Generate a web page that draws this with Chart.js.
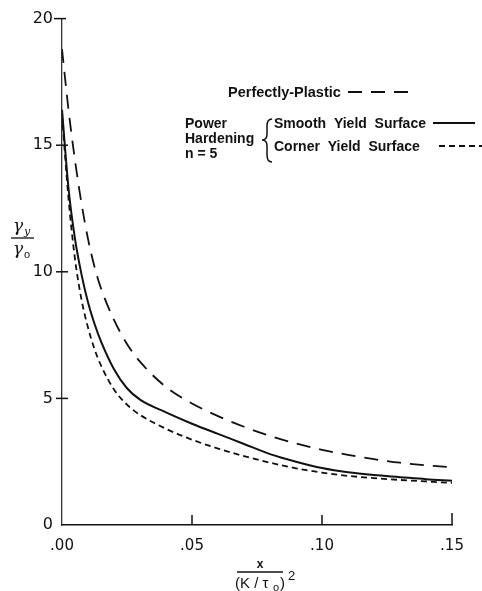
<!DOCTYPE html>
<html>
<head>
<meta charset="utf-8">
<script src="https://cdn.jsdelivr.net/npm/chart.js@4.4.1/dist/chart.umd.min.js"></script>
<style>
html,body{margin:0;padding:0;background:#fff;}
#wrap{position:relative;width:482px;height:591px;}
</style>
</head>
<body>
<div id="wrap"><canvas id="c" width="482" height="591"></canvas></div>
<script>
// ---- data ----
const xValues = [0, 0.0025, 0.005, 0.0075, 0.01, 0.0125, 0.015, 0.02, 0.025, 0.03, 0.04, 0.05, 0.06, 0.07, 0.08, 0.09, 0.10, 0.11, 0.12, 0.13, 0.14, 0.15];
const perfectlyPlastic = [18.8, 16.4, 14.4, 12.7, 11.3, 10.2, 9.35, 8.1, 7.15, 6.45, 5.45, 4.8, 4.3, 3.88, 3.52, 3.22, 2.97, 2.77, 2.6, 2.46, 2.36, 2.28];
const smoothYield = [16.4, 13.3, 11.3, 9.9, 8.8, 7.95, 7.25, 6.15, 5.4, 4.95, 4.45, 4.0, 3.6, 3.2, 2.8, 2.5, 2.25, 2.08, 1.97, 1.89, 1.81, 1.75];
const cornerYield = [16.2, 12.9, 10.5, 8.9, 7.8, 6.95, 6.3, 5.35, 4.75, 4.35, 3.8, 3.37, 3.02, 2.72, 2.46, 2.24, 2.07, 1.94, 1.85, 1.78, 1.72, 1.66];
const yTicks = [0, 5, 10, 15, 20];
const xTicks = [0, 0.05, 0.10, 0.15];
const xTickLabels = ['.00', '.05', '.10', '.15'];

const pts = arr => xValues.map((x, i) => ({x: x, y: arr[i]}));

const FONT = '"Liberation Sans", Arial, sans-serif';

const decor = {
  id: 'decor',
  afterDraw(chart) {
    const ctx = chart.ctx;
    const xs = chart.scales.x, ys = chart.scales.y;
    const x0 = xs.getPixelForValue(0), y0 = ys.getPixelForValue(0);
    ctx.save();
    ctx.strokeStyle = '#111';
    ctx.lineWidth = 1.5;
    // y-axis cross ticks
    yTicks.forEach(v => {
      if (v === 0) return;
      const y = ys.getPixelForValue(v);
      ctx.beginPath();
      if (v === 20) { ctx.moveTo(x0 - 8, y); ctx.lineTo(x0 + 4, y); }
      else { ctx.moveTo(x0 - 6, y); ctx.lineTo(x0 + 6, y); }
      ctx.stroke();
    });
    // x-axis inward ticks
    xTicks.forEach(v => {
      if (v === 0) return;
      const x = xs.getPixelForValue(v);
      ctx.beginPath();
      ctx.moveTo(x, y0); ctx.lineTo(x, y0 - (v > 0.12 ? 12 : 10));
      ctx.stroke();
    });

    // legend
    ctx.fillStyle = '#111';
    ctx.textBaseline = 'alphabetic';
    ctx.font = 'bold 14.5px ' + FONT;
    ctx.fillText('Perfectly-Plastic', 228, 97);
    ctx.font = 'bold 14px ' + FONT;
    ctx.fillText('Power', 185, 128);
    ctx.fillText('Hardening', 185, 143);
    ctx.fillText('n = 5', 185, 158);
    ctx.fillText('Smooth  Yield  Surface', 274, 128);
    ctx.fillText('Corner  Yield  Surface', 274, 151);
    // brace
    ctx.lineWidth = 1.5;
    ctx.beginPath();
    ctx.moveTo(272, 119);
    ctx.quadraticCurveTo(267, 119, 267, 126);
    ctx.lineTo(267, 134);
    ctx.quadraticCurveTo(267, 140, 262, 140);
    ctx.quadraticCurveTo(267, 140, 267, 146);
    ctx.lineTo(267, 155);
    ctx.quadraticCurveTo(267, 162, 272, 162);
    ctx.stroke();
    // legend samples
    ctx.lineWidth = 2;
    ctx.setLineDash([14, 9]);
    ctx.beginPath(); ctx.moveTo(348, 92); ctx.lineTo(413, 92); ctx.stroke();
    ctx.setLineDash([]);
    ctx.beginPath(); ctx.moveTo(433, 123); ctx.lineTo(475, 123); ctx.stroke();
    ctx.setLineDash([6, 4]);
    ctx.beginPath(); ctx.moveTo(439, 146); ctx.lineTo(482, 146); ctx.stroke();
    ctx.setLineDash([]);

    // y-axis title: gamma_y over gamma_o
    ctx.lineWidth = 1.3;
    ctx.font = 'italic 17px "DejaVu Serif", serif';
    ctx.fillText('\u03B3', 13, 231);
    ctx.font = 'italic 11px "DejaVu Serif", serif';
    ctx.fillText('y', 24, 235);
    ctx.beginPath(); ctx.moveTo(11, 238); ctx.lineTo(34, 238); ctx.stroke();
    ctx.font = 'italic 17px "DejaVu Serif", serif';
    ctx.fillText('\u03B3', 13, 254);
    ctx.font = '11px ' + FONT;
    ctx.fillText('o', 24, 258);

    // x-axis title: x over (K/tau_o)^2
    ctx.font = 'bold 12px ' + FONT;
    ctx.textAlign = 'center';
    ctx.fillText('x', 260, 568);
    ctx.beginPath(); ctx.moveTo(237, 572); ctx.lineTo(283, 572); ctx.stroke();
    ctx.font = '15px ' + FONT;
    ctx.textAlign = 'left';
    ctx.fillText('(K / \u03C4', 235, 588);
    ctx.font = '11px ' + FONT;
    ctx.fillText('o', 273, 591);
    ctx.font = '15px ' + FONT;
    ctx.fillText(')', 280, 588);
    ctx.font = '13px ' + FONT;
    ctx.fillText('2', 288, 580);
    ctx.restore();
  }
};

new Chart(document.getElementById('c'), {
  type: 'scatter',
  data: {
    datasets: [
      { label: 'Perfectly-Plastic', data: pts(perfectlyPlastic), showLine: true, borderColor: '#111', borderWidth: 1.8, borderDash: [14, 9], pointRadius: 0, cubicInterpolationMode: 'monotone' },
      { label: 'Smooth Yield Surface', data: pts(smoothYield), showLine: true, borderColor: '#111', borderWidth: 2, pointRadius: 0, cubicInterpolationMode: 'monotone' },
      { label: 'Corner Yield Surface', data: pts(cornerYield), showLine: true, borderColor: '#111', borderWidth: 1.8, borderDash: [6, 4], pointRadius: 0, cubicInterpolationMode: 'monotone' }
    ]
  },
  options: {
    responsive: false,
    animation: false,
    layout: { padding: { left: 0, right: 30, top: 7, bottom: 0 } },
    plugins: { legend: { display: false }, tooltip: { enabled: false } },
    scales: {
      x: {
        type: 'linear', min: 0, max: 0.15,
        afterBuildTicks: s => { s.ticks = xTicks.map(v => ({value: v})); },
        ticks: { padding: 12, color: '#111', maxRotation: 0, font: { family: '"DejaVu Sans", sans-serif', size: 15 },
          callback: (v) => { const i = xTicks.findIndex(t => Math.abs(t - v) < 1e-9); return i >= 0 ? xTickLabels[i] : ''; } },
        grid: { display: false, drawTicks: false },
        border: { display: true, color: '#111', width: 1.6 },
        afterFit: s => { s.height = 66; }
      },
      y: {
        min: 0, max: 20,
        afterBuildTicks: s => { s.ticks = yTicks.map(v => ({value: v})); },
        ticks: { padding: 9, color: '#111', font: { family: '"DejaVu Sans", sans-serif', size: 16 } },
        grid: { display: false, drawTicks: false },
        border: { display: true, color: '#333', width: 1.3 },
        afterFit: s => { s.width = 62; }
      }
    }
  },
  plugins: [decor]
});
</script>
</body>
</html>
